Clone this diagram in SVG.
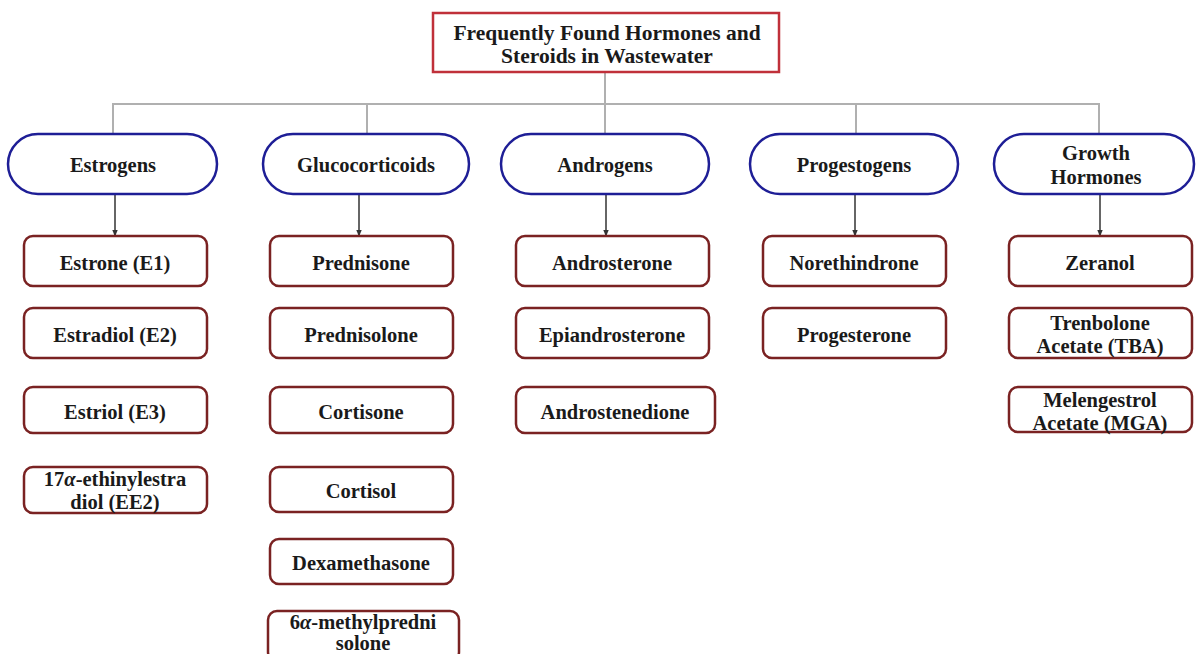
<svg xmlns="http://www.w3.org/2000/svg" width="1197" height="654" viewBox="0 0 1197 654">
<defs>
<marker id="arr" viewBox="0 0 10 10" refX="9" refY="5" markerWidth="7" markerHeight="7" orient="auto" markerUnits="userSpaceOnUse">
<path d="M0,1 L10,5 L0,9 Z" fill="#333"/>
</marker>
<style>
text{font-family:"Liberation Serif","Times New Roman",serif;font-weight:bold;font-size:20.5px;fill:#1a1a1a;text-anchor:middle}
.t{font-size:21.5px}
.title{fill:#fff;stroke:#c0303a;stroke-width:2.5}
.pill{fill:#fff;stroke:#1e1e96;stroke-width:2.5}
.box{fill:#fff;stroke:#7a2222;stroke-width:2.5}
.tree{fill:none;stroke:#b0b0b0;stroke-width:2}
.arrow{fill:none;stroke:#333;stroke-width:1.5;marker-end:url(#arr)}
</style>
</defs>
<rect width="1197" height="654" fill="#fff"/>
<g id="connectors">
<path class="tree" d="M605,72 V104 M113,133 V104 H1099 V133 M367,104 V133 M605,104 V133 M856,104 V133"/>
<path class="arrow" d="M115,194 V236"/>
<path class="arrow" d="M359,194 V236"/>
<path class="arrow" d="M606,194 V236"/>
<path class="arrow" d="M855,194 V236"/>
<path class="arrow" d="M1100,194 V236"/>
</g>
<g id="title"><rect class="title" x="433" y="13" width="346" height="59"/><text class="t" x="607" y="40">Frequently Found Hormones and</text><text class="t" x="607" y="63">Steroids in Wastewater</text></g>
<g id="estrogens"><rect class="pill" x="8" y="134" width="209" height="60" rx="30"/><text x="113" y="172">Estrogens</text></g>
<g id="glucocorticoids"><rect class="pill" x="263" y="134" width="206" height="60" rx="30"/><text x="366" y="172">Glucocorticoids</text></g>
<g id="androgens"><rect class="pill" x="501" y="134" width="208" height="60" rx="30"/><text x="605" y="172">Androgens</text></g>
<g id="progestogens"><rect class="pill" x="750" y="134" width="208" height="60" rx="30"/><text x="854" y="172">Progestogens</text></g>
<g id="growth"><rect class="pill" x="994" y="134" width="200" height="60" rx="30"/><text x="1096" y="160">Growth</text><text x="1096" y="184">Hormones</text></g>

<g id="estrone"><rect class="box" x="24" y="236" width="183" height="50" rx="9"/><text x="115" y="270">Estrone (E1)</text></g>
<g id="estradiol"><rect class="box" x="24" y="308" width="183" height="50" rx="9"/><text x="115" y="342">Estradiol (E2)</text></g>
<g id="estriol"><rect class="box" x="24" y="387" width="183" height="46" rx="9"/><text x="115" y="419">Estriol (E3)</text></g>
<g id="ee2"><rect class="box" x="24" y="467" width="183" height="46" rx="9"/><text x="115" y="486">17<tspan font-style="italic">α</tspan>-ethinylestra</text><text x="115" y="509">diol (EE2)</text></g>

<g id="prednisone"><rect class="box" x="270" y="236" width="183" height="50" rx="9"/><text x="361" y="270">Prednisone</text></g>
<g id="prednisolone"><rect class="box" x="270" y="308" width="183" height="50" rx="9"/><text x="361" y="342">Prednisolone</text></g>
<g id="cortisone"><rect class="box" x="270" y="387" width="183" height="46" rx="9"/><text x="361" y="419">Cortisone</text></g>
<g id="cortisol"><rect class="box" x="270" y="467" width="183" height="45" rx="9"/><text x="361" y="498">Cortisol</text></g>
<g id="dexamethasone"><rect class="box" x="270" y="539" width="183" height="45" rx="9"/><text x="361" y="570">Dexamethasone</text></g>
<g id="methylprednisolone"><rect class="box" x="268" y="611" width="191" height="50" rx="9"/><text x="363" y="629">6<tspan font-style="italic">α</tspan>-methylpredni</text><text x="363" y="650">solone</text></g>

<g id="androsterone"><rect class="box" x="516" y="236" width="193" height="50" rx="9"/><text x="612" y="270">Androsterone</text></g>
<g id="epiandrosterone"><rect class="box" x="516" y="308" width="193" height="50" rx="9"/><text x="612" y="342">Epiandrosterone</text></g>
<g id="androstenedione"><rect class="box" x="516" y="387" width="199" height="46" rx="9"/><text x="615" y="419">Androstenedione</text></g>

<g id="norethindrone"><rect class="box" x="763" y="236" width="183" height="50" rx="9"/><text x="854" y="270">Norethindrone</text></g>
<g id="progesterone"><rect class="box" x="763" y="308" width="183" height="50" rx="9"/><text x="854" y="342">Progesterone</text></g>

<g id="zeranol"><rect class="box" x="1009" y="236" width="183" height="50" rx="9"/><text x="1100" y="270">Zeranol</text></g>
<g id="tba"><rect class="box" x="1009" y="308" width="183" height="50" rx="9"/><text x="1100" y="330">Trenbolone</text><text x="1100" y="353">Acetate (TBA)</text></g>
<g id="mga"><rect class="box" x="1009" y="387" width="183" height="45" rx="9"/><text x="1100" y="407">Melengestrol</text><text x="1100" y="430">Acetate (MGA)</text></g>
</svg>
